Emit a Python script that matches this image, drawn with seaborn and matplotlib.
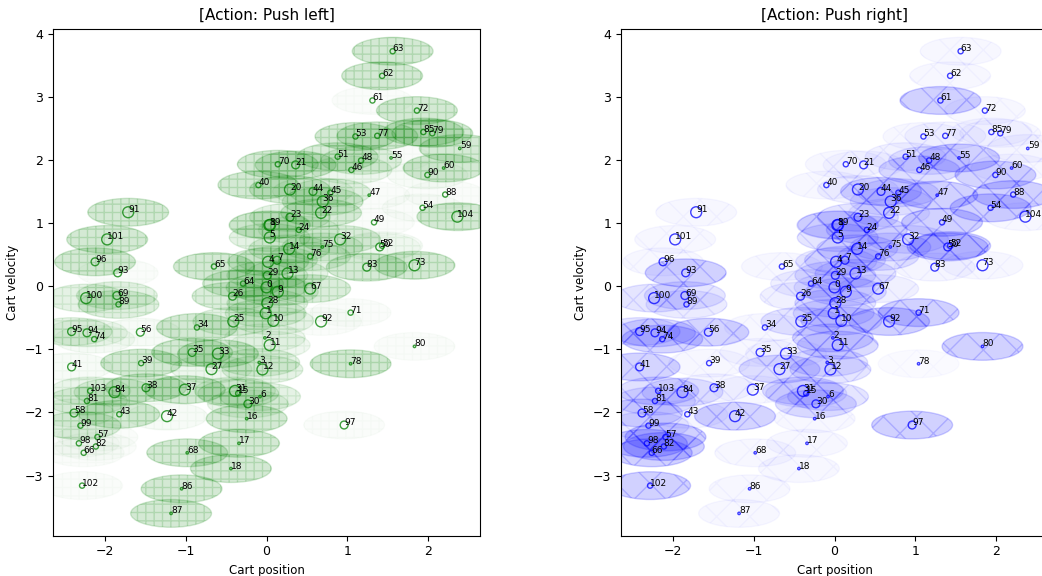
import numpy as np
import pandas as pd
import matplotlib
matplotlib.use("Agg")
import matplotlib.pyplot as plt
from matplotlib.patches import Ellipse
import seaborn as sns

# State samples (index = sample id): cart position and cart velocity
cart_position = [
    0.00, -0.01, -0.02, -0.09, 0.02, 0.04, -0.08, 0.13, 0.035, 0.14,
    0.085, 0.04, -0.05, 0.26, 0.28, -0.35, -0.245, -0.34, -0.44, 0.045,
    0.29, 0.36, 0.675, 0.29, 0.40, -0.41, -0.42, -0.68, 0.01, 0.01,
    -0.23, -0.39, 0.91, -0.60, -0.86, -0.92, 0.695, -1.01, -1.49, -1.55,
    -0.10, -2.41, -1.23, -1.82, 0.575, 0.79, 1.05, 1.27, 1.17, 1.33,
    1.40, 0.88, 1.43, 1.10, 1.93, 1.54, -1.56, -2.09, -2.38, 2.39,
    2.19, 1.31, 1.43, 1.56, -0.29, -0.65, -2.26, 0.54, -0.98, -1.85,
    0.14, 1.04, 1.86, 1.83, -2.13, 0.69, 0.54, 1.37, 1.04, 2.05,
    1.83, -2.22, -2.11, 1.24, -1.88, 1.94, -1.05, -1.18, 2.21, -1.83,
    1.99, -1.71, 0.675, -1.84, -2.22, -2.41, -2.12, 0.96, -2.32, -2.30,
    -2.23, -1.97, -2.28, -2.18, 2.36,
]
cart_velocity = [
    -0.02, -0.43, -0.82, -1.21, 0.385, 0.77, -1.75, 0.41, 0.965, -0.09,
    -0.55, -0.935, -1.32, 0.20, 0.59, -1.70, -2.10, -2.49, -2.89, 0.97,
    1.53, 1.92, 1.16, 1.09, 0.89, -0.56, -0.16, -1.315, -0.27, 0.17,
    -1.865, -1.66, 0.74, -1.07, -0.655, -1.05, 1.34, -1.64, -1.61, -1.22,
    1.60, -1.28, -2.06, -2.03, 1.50, 1.48, 1.84, 1.44, 1.99, 1.01,
    0.62, 2.05, 0.64, 2.37, 1.24, 2.03, -0.73, -2.39, -2.01, 2.18,
    1.87, 2.94, 3.33, 3.72, 0.04, 0.31, -2.64, -0.04, -2.64, -0.15,
    1.93, -0.42, 2.78, 0.33, -0.84, 0.62, 0.47, 2.38, -1.23, 2.42,
    -0.955, -1.82, -2.54, 0.30, -1.68, 2.44, -3.21, -3.60, 1.45, -0.29,
    1.76, 1.17, -0.56, 0.21, -0.74, -0.72, 0.385, -2.20, -2.49, -2.21,
    -0.19, 0.74, -3.16, -1.66, 1.10,
]
# Visit level of each sample (1 = rare ... 4 = frequent)
visit_level = [
    4, 4, 1, 1, 4, 4, 1, 3, 4, 4,
    4, 4, 4, 4, 4, 2, 1, 1, 1, 4,
    4, 3, 4, 3, 2, 4, 3, 4, 4, 3,
    3, 4, 4, 4, 2, 3, 4, 4, 3, 2,
    2, 3, 4, 2, 3, 2, 2, 1, 2, 2,
    3, 2, 2, 2, 2, 1, 3, 2, 3, 1,
    1, 2, 2, 2, 2, 2, 2, 4, 1, 3,
    2, 2, 2, 4, 2, 1, 2, 2, 1, 2,
    1, 2, 2, 3, 4, 2, 1, 1, 2, 2,
    2, 4, 4, 3, 3, 3, 3, 3, 2, 2,
    4, 4, 2, 2, 4,
]
# Probability of choosing "push left" in each sampled state
prob_left = [
    0.6, 0.5, 0.3, 0.5, 0.6, 0.5, 0.5, 0.5, 0.5, 0.5,
    0.4, 0.3, 0.5, 0.5, 0.5, 0.6, 0.85, 0.85, 0.85, 0.5,
    0.75, 0.85, 0.7, 0.5, 0.4, 0.5, 0.7, 0.35, 0.5, 0.5,
    0.4, 0.4, 0.6, 0.85, 0.85, 0.85, 0.6, 0.85, 0.8, 0.85,
    0.85, 0.15, 0.15, 0.8, 0.3, 0.5, 0.35, 0.1, 0.55, 0.1,
    0.15, 0.75, 0.15, 0.85, 0.1, 0.1, 0.15, 0.1, 0.3, 0.8,
    0.85, 0.1, 0.85, 0.85, 0.7, 0.85, 0.1, 0.7, 0.85, 0.5,
    0.85, 0.1, 0.85, 0.85, 0.2, 0.5, 0.5, 0.8, 0.9, 0.85,
    0.1, 0.5, 0.1, 0.8, 0.5, 0.85, 0.85, 0.85, 0.1, 0.6,
    0.15, 0.85, 0.1, 0.1, 0.3, 0.5, 0.85, 0.1, 0.1, 0.6,
    0.5, 0.85, 0.1, 0.4, 0.85,
]

actions = ["Push left", "Push right"]
action_colors = ["green", "blue"]
action_hatches = ["++", "x"]

df = pd.DataFrame({
    "id": list(range(len(cart_position))),
    "position": cart_position,
    "velocity": cart_velocity,
    "level": visit_level,
    "p_left": prob_left,
})
df["p_right"] = 1.0 - df["p_left"]

sns.set_style("ticks", {
    "axes.edgecolor": "black",
    "text.color": "black",
    "axes.labelcolor": "black",
    "xtick.color": "black",
    "ytick.color": "black",
})

fig = plt.figure(figsize=(10.42, 5.76), dpi=100)
W, H = 1042.0, 576.0
ax_left = fig.add_axes([53 / W, 40.5 / H, 427 / W, 507 / H])
ax_right = fig.add_axes([621 / W, 40.5 / H, 427 / W, 507 / H])

size_map = {1: 3, 2: 14, 3: 32, 4: 62}

for ax, action, color, hatch, pcol in zip(
    [ax_left, ax_right], actions, action_colors, action_hatches, ["p_left", "p_right"]
):
    for _, row in df.iterrows():
        ax.add_patch(Ellipse(
            (row["position"], row["velocity"]), width=1.0, height=0.44,
            facecolor=color, edgecolor=color, hatch=hatch,
            alpha=0.2 * row[pcol], linewidth=1.0, zorder=1,
        ))
    sns.scatterplot(
        data=df, x="position", y="velocity", size="level", sizes=size_map,
        legend=False, facecolor="none", edgecolor=color, linewidth=1.0,
        alpha=0.75, ax=ax, zorder=3,
    )
    for _, row in df.iterrows():
        ax.text(row["position"], row["velocity"], str(int(row["id"])),
                fontsize=6.5, color="black", zorder=4)
    ax.set_xlim(-2.64, 2.64)
    ax.set_ylim(-3.95, 4.08)
    ax.set_xticks([-2, -1, 0, 1, 2])
    ax.set_yticks([-3, -2, -1, 0, 1, 2, 3, 4])
    ax.tick_params(labelsize=9)
    ax.set_title(f"[Action: {action}]", fontsize=11)
    ax.set_xlabel("Cart position", fontsize=8.5)
    ax.set_ylabel("Cart velocity", fontsize=8.5)

fig.savefig("out.png", dpi=100)
